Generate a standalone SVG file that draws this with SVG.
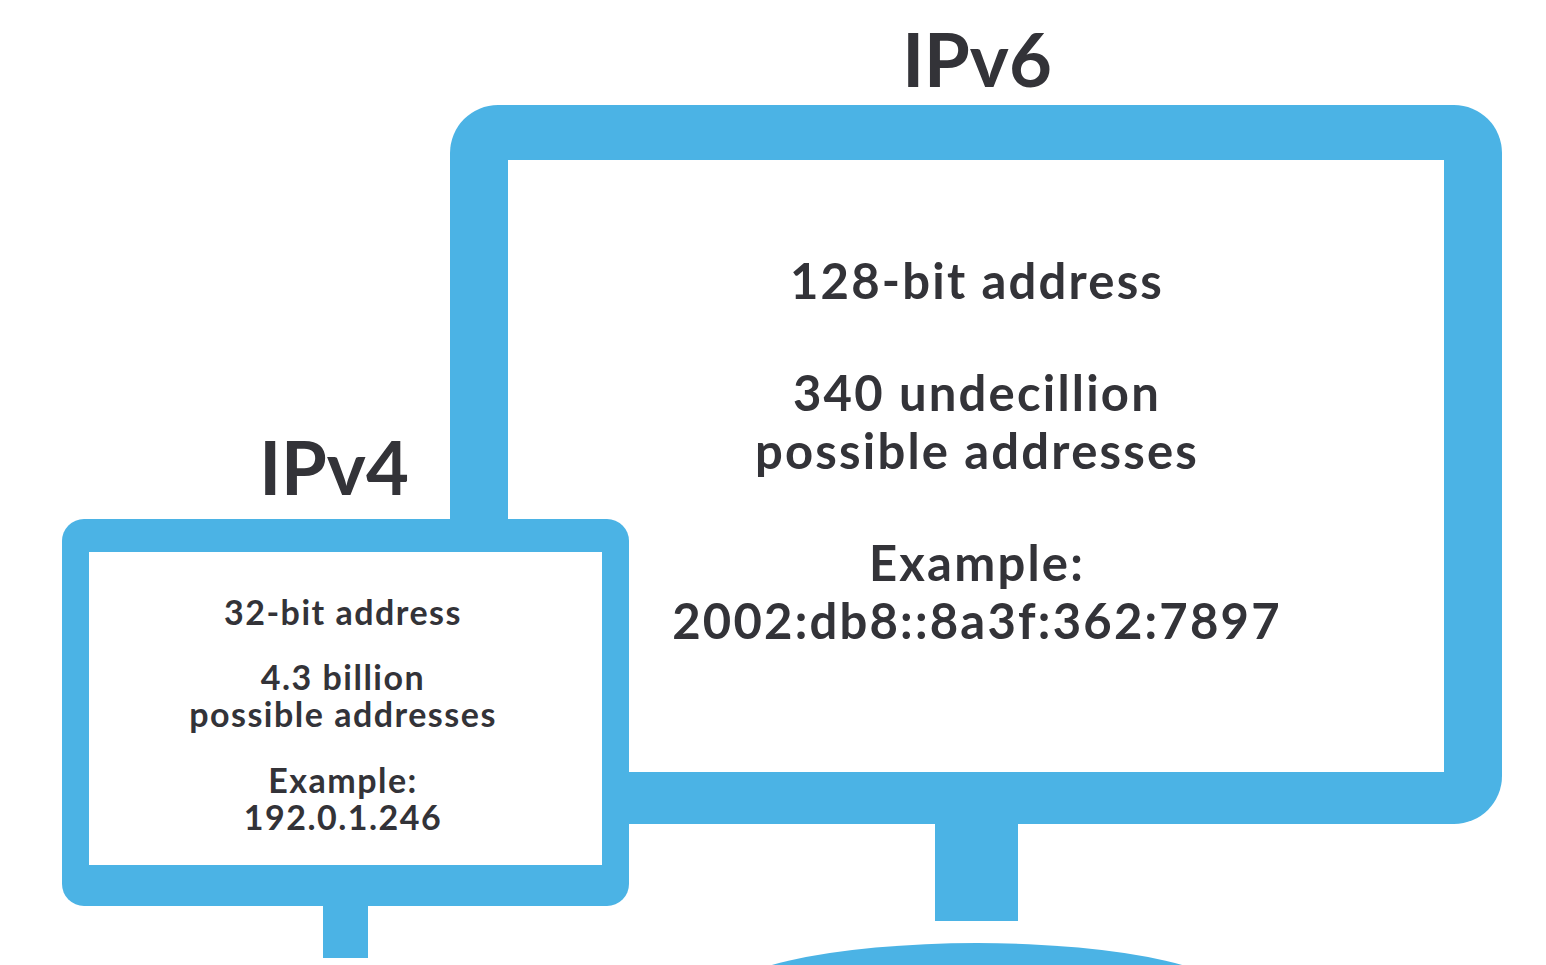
<svg xmlns="http://www.w3.org/2000/svg" width="1546" height="965" viewBox="0 0 1546 965">
<style>
.blue{fill:#4bb3e5}
.white{fill:#ffffff}
.t{font-family:Lato,"Open Sans","Liberation Sans",sans-serif;font-weight:bold;fill:#333338;text-anchor:middle}
.title{font-size:74px}
.big{font-size:49px;letter-spacing:2.2px}
.small{font-size:34px;letter-spacing:1.5px}
</style>
<rect width="1546" height="965" fill="#ffffff"/>
<g id="ipv6">
  <rect class="blue" x="450" y="105" width="1052" height="719" rx="48"/>
  <rect class="white" x="508" y="160" width="936" height="612"/>
  <rect class="blue" x="935" y="820" width="83" height="101"/>
  <ellipse class="blue" cx="977" cy="1003" rx="265" ry="60"/>
  <text class="t title" x="977" y="87">IPv6</text>
  <text class="t big" x="977" y="299">128-bit address</text>
  <text class="t big" x="977" y="411">340 undecillion</text>
  <text class="t big" x="977" y="469">possible addresses</text>
  <text class="t big" x="977" y="581">Example:</text>
  <text class="t big" x="977" y="639">2002:db8::8a3f:362:7897</text>
</g>
<g id="ipv4">
  <rect class="blue" x="62" y="519" width="567" height="387" rx="22"/>
  <rect class="white" x="89" y="552" width="513" height="313"/>
  <rect class="blue" x="323" y="900" width="45" height="58"/>
  <text class="t title" x="334" y="495">IPv4</text>
  <text class="t small" x="343" y="625">32-bit address</text>
  <text class="t small" x="343" y="690">4.3 billion</text>
  <text class="t small" x="343" y="727">possible addresses</text>
  <text class="t small" x="343" y="793">Example:</text>
  <text class="t small" x="343" y="830">192.0.1.246</text>
</g>
<g id="connectors"></g>
</svg>
